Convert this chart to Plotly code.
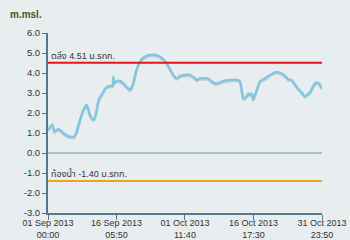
import plotly.graph_objects as go

# ---- data ----
times = [
    "2013-09-01 00:00", "2013-09-01 23:00", "2013-09-02 09:40", "2013-09-03 07:00",
    "2013-09-03 21:30", "2013-09-04 18:50", "2013-09-05 21:30", "2013-09-06 20:30",
    "2013-09-07 09:20", "2013-09-08 03:00", "2013-09-08 20:40", "2013-09-09 14:50",
    "2013-09-10 04:40", "2013-09-10 17:30", "2013-09-11 05:50", "2013-09-11 14:50",
    "2013-09-12 04:40", "2013-09-12 13:50", "2013-09-12 22:50", "2013-09-13 12:50",
    "2013-09-14 01:40", "2013-09-14 19:10", "2013-09-15 09:40", "2013-09-15 12:50",
    "2013-09-15 16:40", "2013-09-16 07:00", "2013-09-17 00:40", "2013-09-17 18:20",
    "2013-09-18 12:30", "2013-09-19 06:10", "2013-09-19 23:40", "2013-09-20 14:10",
    "2013-09-21 02:20", "2013-09-21 20:40", "2013-09-22 14:10", "2013-09-23 16:50",
    "2013-09-24 19:40", "2013-09-25 22:20", "2013-09-26 16:00", "2013-09-27 10:10",
    "2013-09-28 03:50", "2013-09-28 21:20", "2013-09-29 15:30", "2013-09-30 09:10",
    "2013-10-01 11:50", "2013-10-02 14:40", "2013-10-03 08:20", "2013-10-04 02:20",
    "2013-10-04 20:10", "2013-10-06 07:50", "2013-10-07 01:30", "2013-10-07 19:10",
    "2013-10-08 13:20", "2013-10-09 06:50", "2013-10-10 00:40", "2013-10-11 12:20",
    "2013-10-13 00:10", "2013-10-13 17:40", "2013-10-14 02:50", "2013-10-14 11:20",
    "2013-10-15 01:50", "2013-10-15 14:10", "2013-10-15 23:10", "2013-10-16 08:20",
    "2013-10-16 16:50", "2013-10-17 11:00", "2013-10-18 04:40", "2013-10-19 07:20",
    "2013-10-20 10:10", "2013-10-21 12:50", "2013-10-22 15:30", "2013-10-23 18:10",
    "2013-10-24 11:50", "2013-10-25 06:00", "2013-10-26 08:40", "2013-10-27 11:20",
    "2013-10-28 05:00", "2013-10-28 22:40", "2013-10-29 11:30", "2013-10-30 01:20",
    "2013-10-30 19:30", "2013-10-31 09:20", "2013-10-31 23:50",
]
levels = [
    1.15, 1.43, 1.07, 1.20, 1.10, 0.93, 0.82, 0.82,
    1.07, 1.65, 2.15, 2.40, 2.00, 1.73, 1.68, 1.90,
    2.57, 2.80, 2.90, 3.15, 3.30, 3.35, 3.35, 3.80,
    3.48, 3.60, 3.60, 3.48, 3.30, 3.15, 3.48, 4.07,
    4.40, 4.68, 4.82, 4.90, 4.90, 4.82, 4.68, 4.48,
    4.18, 3.90, 3.73, 3.85, 3.90, 3.90, 3.80, 3.65,
    3.73, 3.73, 3.65, 3.52, 3.48, 3.52, 3.60, 3.65,
    3.65, 3.57, 3.15, 2.73, 2.78, 2.98, 2.90, 2.98,
    2.68, 3.15, 3.57, 3.73, 3.90, 4.03, 4.02, 3.85,
    3.68, 3.65, 3.30, 3.02, 2.82, 2.95, 3.07, 3.35,
    3.52, 3.45, 3.23,
]
bank_level = 4.51
bed_level = -1.40
bank_label = "ตลิ่ง 4.51 ม.รทก."
bed_label = "ท้องน้ำ -1.40 ม.รทก."
x_tickvals = ["2013-09-01 00:00", "2013-09-16 05:50", "2013-10-01 11:40",
              "2013-10-16 17:30", "2013-10-31 23:50"]
x_ticktext = ["01 Sep 2013<br>00:00", "16 Sep 2013<br>05:50", "01 Oct 2013<br>11:40",
              "16 Oct 2013<br>17:30", "31 Oct 2013<br>23:50"]
y_tickvals = [6, 5, 4, 3, 2, 1, 0, -1, -2, -3]
y_ticktext = ["6.0", "5.0", "4.0", "3.0", "2.0", "1.0", "0.0", "-1.0", "-2.0", "-3.0"]
x_start, x_end = x_tickvals[0], x_tickvals[-1]

BG = "#e8eef0"
AXIS = "#56798a"
TXT = "#333333"
FONT = "Liberation Sans, Arial, Noto Sans Thai, sans-serif"

fig = go.Figure()
# soft shadow under the series
fig.add_trace(go.Scatter(x=times, y=[v - 0.06 for v in levels], mode="lines",
                         line=dict(color="rgba(120,120,120,0.25)", width=2.5, shape="spline",
                                   smoothing=0.4),
                         hoverinfo="skip", showlegend=False))
fig.add_trace(go.Scatter(x=times, y=levels, mode="lines",
                         line=dict(color="#82c7e1", width=2.5, shape="spline", smoothing=0.4),
                         showlegend=False))

# zero line, bank and bed lines
fig.add_shape(type="line", xref="x", yref="y", x0=x_start, x1=x_end, y0=0, y1=0,
              line=dict(color="#6f90ad", width=1), layer="below")
fig.add_shape(type="line", xref="x", yref="y", x0=x_start, x1=x_end, y0=bank_level, y1=bank_level,
              line=dict(color="#e5141c", width=2))
fig.add_shape(type="line", xref="x", yref="y", x0=x_start, x1=x_end, y0=bed_level, y1=bed_level,
              line=dict(color="#f0a21e", width=2))
fig.add_annotation(x=x_start, y=bank_level, xref="x", yref="y", text=bank_label,
                   showarrow=False, xanchor="left", yanchor="bottom", xshift=1, yshift=0,
                   font=dict(size=9, color=TXT, family=FONT))
fig.add_annotation(x=x_start, y=bed_level, xref="x", yref="y", text=bed_label,
                   showarrow=False, xanchor="left", yanchor="bottom", xshift=1, yshift=0,
                   font=dict(size=9, color=TXT, family=FONT))
fig.add_annotation(x=0, y=1, xref="paper", yref="paper", text="<b>m.msl.</b>",
                   showarrow=False, xanchor="left", yanchor="middle", xshift=-40, yshift=19,
                   font=dict(size=10, color="#3d5b1c", family=FONT))

fig.update_layout(
    width=350, height=240,
    margin=dict(l=48, r=28, t=33, b=27, autoexpand=False),
    paper_bgcolor=BG, plot_bgcolor=BG,
    showlegend=False,
    xaxis=dict(type="date", range=[x_start, x_end], tickvals=x_tickvals, ticktext=x_ticktext,
               automargin=False, ticklabelstandoff=-5,
               showgrid=False, zeroline=False, showline=True, linecolor=AXIS, linewidth=2,
               ticks="outside", ticklen=5, tickcolor=AXIS, tickwidth=1,
               tickfont=dict(size=9, color=TXT, family=FONT)),
    yaxis=dict(range=[-3, 6], tickvals=y_tickvals, ticktext=y_ticktext,
               automargin=False,
               showgrid=False, zeroline=False, showline=True, linecolor=AXIS, linewidth=2,
               ticks="outside", ticklen=4, tickcolor=AXIS, tickwidth=1,
               tickfont=dict(size=9.5, color=TXT, family=FONT)),
)

fig.write_html("out.html")
